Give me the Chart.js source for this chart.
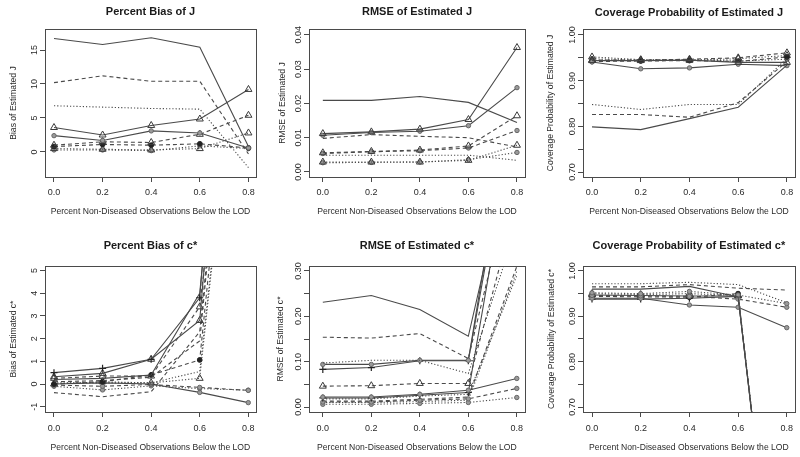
<!DOCTYPE html>
<html>
<head>
<meta charset="utf-8">
<script src="https://cdn.jsdelivr.net/npm/chart.js@4.4.1/dist/chart.umd.min.js"></script>
<style>
  body { margin: 0; background: #fff; }
  #page { position: relative; width: 800px; height: 457px; overflow: hidden; background: #fff; }
  #page canvas { position: absolute; }
</style>
</head>
<body>
<div id="page"></div>
<script>
// x positions shared by every panel
const xValues = [0.0, 0.2, 0.4, 0.6, 0.8];
const xTicks = [0.0, 0.2, 0.4, 0.6, 0.8];

// Percent bias of J
const biasJTicks = [0, 5, 10, 15];
const biasJLabels = ['0', '5', '10', '15'];
const biasJStyles = ['solid none', 'dashed none', 'dotted none', 'solid triangle', 'solid circle',
  'dashed triangle', 'dashed dot', 'dotted triangle', 'dotted circle'];
const biasJ = [
  [16.7, 15.8, 16.8, 15.4, 0.8],
  [10.2, 11.2, 10.4, 10.4, -0.3],
  [6.8, 6.6, 6.4, 6.3, -2.3],
  [3.6, 2.5, 3.9, 4.85, 9.2],
  [2.4, 1.7, 3.1, 2.8, 0.6],
  [1.0, 1.5, 1.4, 2.6, 5.4],
  [0.8, 1.1, 1.0, 1.2, 0.6],
  [0.5, 0.4, 0.3, 0.5, 2.8],
  [0.3, 0.3, 0.2, 0.9, 0.5]
];

// RMSE of J
const rmseJTicks = [0, 0.01, 0.02, 0.03, 0.04];
const rmseJLabels = ['0.00', '0.01', '0.02', '0.03', '0.04'];
const rmseJStyles = ['solid none', 'solid triangle', 'solid circle', 'dashed none', 'dashed triangle',
  'dashed circle', 'dotted none', 'dotted triangle', 'dotted circle'];
const rmseJ = [
  [0.0209, 0.0209, 0.0220, 0.0203, 0.0144],
  [0.0112, 0.0117, 0.0125, 0.0153, 0.0363],
  [0.0107, 0.0115, 0.0119, 0.0135, 0.0246],
  [0.0098, 0.0109, 0.0104, 0.0100, 0.0073],
  [0.0056, 0.0060, 0.0064, 0.0076, 0.0164],
  [0.0054, 0.0059, 0.0062, 0.0070, 0.0121],
  [0.0049, 0.0049, 0.0049, 0.0049, 0.0034],
  [0.0029, 0.0029, 0.0029, 0.0034, 0.0078],
  [0.0027, 0.0028, 0.0029, 0.0036, 0.0057]
];

// Coverage probability of J
const covJTicks = [0.70, 0.75, 0.80, 0.85, 0.90, 0.95, 1.00];
const covJLabels = ['0.70', '', '0.80', '', '0.90', '', '1.00'];
const covJStyles = ['solid none', 'dashed none', 'dotted none', 'solid triangle', 'solid circle',
  'dashed triangle', 'dashed dot', 'dotted triangle', 'dotted circle'];
const covJ = [
  [0.799, 0.793, 0.817, 0.842, 0.934],
  [0.826, 0.826, 0.820, 0.852, 0.942],
  [0.848, 0.837, 0.848, 0.848, 0.949],
  [0.944, 0.944, 0.945, 0.940, 0.940],
  [0.941, 0.926, 0.928, 0.936, 0.933],
  [0.945, 0.945, 0.947, 0.950, 0.961],
  [0.942, 0.943, 0.944, 0.942, 0.952],
  [0.952, 0.946, 0.945, 0.948, 0.955],
  [0.948, 0.945, 0.946, 0.943, 0.947]
];

// Percent bias of c*
const biasCTicks = [-1, 0, 1, 2, 3, 4, 5];
const biasCLabels = ['-1', '0', '1', '2', '3', '4', '5'];
const biasCStyles = ['solid plus', 'solid triangle', 'solid none', 'dashed none', 'dashed dot',
  'dotted none', 'dotted triangle', 'dashed triangle', 'dashed circle', 'dotted circle',
  'solid circle', 'dashed none'];
const biasC = [
  [0.50, 0.69, 1.09, 3.8, 30],
  [0.32, 0.47, 1.09, 2.8, 28],
  [0.20, 0.25, 0.40, 4.0, 26],
  [0.10, 0.15, 0.30, 1.9, 24],
  [0.00, 0.10, 0.40, 1.06, 22],
  [0.05, 0.05, 0.05, 0.55, 20],
  [0.00, 0.10, 0.05, 0.25, 20],
  [0.25, 0.35, 0.35, 3.4, 22],
  [-0.05, -0.10, -0.02, -0.15, -0.28],
  [-0.10, -0.26, -0.08, -0.20, -0.27],
  [0.00, 0.05, 0.00, -0.37, -0.82],
  [-0.38, -0.56, -0.34, 2.3, 24]
];

// RMSE of c*
const rmseCTicks = [0, 0.05, 0.10, 0.15, 0.20, 0.25, 0.30];
const rmseCLabels = ['0.00', '', '0.10', '', '0.20', '', '0.30'];
const rmseCStyles = ['solid none', 'dashed none', 'dotted none', 'solid circle', 'solid plus',
  'dashed triangle', 'solid circle', 'solid plus', 'dashed circle', 'dotted circle',
  'dotted none', 'dashed none', 'dotted none'];
const rmseC = [
  [0.231, 0.246, 0.215, 0.156, 0.62],
  [0.154, 0.152, 0.162, 0.107, 0.55],
  [0.097, 0.103, 0.103, 0.074, 0.40],
  [0.094, 0.094, 0.103, 0.103, 0.75],
  [0.083, 0.087, 0.102, 0.102, 0.70],
  [0.046, 0.047, 0.052, 0.052, 0.45],
  [0.022, 0.022, 0.028, 0.037, 0.063],
  [0.020, 0.020, 0.026, 0.032, 0.65],
  [0.011, 0.011, 0.015, 0.018, 0.041],
  [0.006, 0.006, 0.008, 0.010, 0.021],
  [0.018, 0.018, 0.024, 0.028, 0.29],
  [0.013, 0.013, 0.017, 0.022, 0.31],
  [0.010, 0.010, 0.012, 0.015, 0.30]
];

// Coverage probability of c*
const covCTicks = [0.70, 0.75, 0.80, 0.85, 0.90, 0.95, 1.00];
const covCLabels = ['0.70', '', '0.80', '', '0.90', '', '1.00'];
const covCStyles = ['dotted none', 'dashed none', 'solid none', 'dotted circle', 'dashed circle',
  'solid circle', 'dashed dot', 'solid triangle', 'dotted triangle', 'solid plus'];
const covC = [
  [0.972, 0.972, 0.975, 0.970, 0.930],
  [0.965, 0.965, 0.970, 0.962, 0.958],
  [0.960, 0.960, 0.966, 0.943, 0.03],
  [0.952, 0.950, 0.955, 0.947, 0.928],
  [0.946, 0.945, 0.944, 0.938, 0.920],
  [0.940, 0.940, 0.925, 0.920, 0.875],
  [0.944, 0.943, 0.942, 0.950, 0.02],
  [0.947, 0.946, 0.945, 0.945, 0.03],
  [0.950, 0.948, 0.950, 0.946, 0.04],
  [0.938, 0.938, 0.940, 0.944, 0.02]
];

const xTitle = 'Percent Non-Diseased Observations Below the LOD';

// layout of each panel: plot box [left, top, right, bottom] in page pixels
const panels = [
  { title: 'Percent Bias of J', yTitle: 'Bias of Estimated J', box: [45, 29, 257, 177], titleY: 12, yGap: 31,
    x: [-0.037, 0.831], y: [-3.68, 18.09], ticks: biasJTicks, labels: biasJLabels, values: biasJ, styles: biasJStyles },
  { title: 'RMSE of Estimated J', yTitle: 'RMSE of Estimated J', box: [309, 29, 526, 177], titleY: 12, yGap: 26,
    x: [-0.057, 0.833], y: [-0.00146, 0.0417], ticks: rmseJTicks, labels: rmseJLabels, values: rmseJ, styles: rmseJStyles },
  { title: 'Coverage Probability of Estimated J', yTitle: 'Coverage Probability of Estimated J', box: [583, 29, 796, 177], titleY: 13, yGap: 32,
    x: [-0.037, 0.833], y: [0.6893, 1.0131], ticks: covJTicks, labels: covJLabels, values: covJ, styles: covJStyles },
  { title: 'Percent Bias of c*', yTitle: 'Bias of Estimated c*', box: [45, 266, 257, 412], titleY: 246, yGap: 31.5,
    x: [-0.037, 0.831], y: [-1.233, 5.2], ticks: biasCTicks, labels: biasCLabels, values: biasC, styles: biasCStyles },
  { title: 'RMSE of Estimated c*', yTitle: 'RMSE of Estimated c*', box: [309, 266, 526, 412], titleY: 246, yGap: 28,
    x: [-0.057, 0.833], y: [-0.011, 0.311], ticks: rmseCTicks, labels: rmseCLabels, values: rmseC, styles: rmseCStyles },
  { title: 'Coverage Probability of Estimated c*', yTitle: 'Coverage Probability of Estimated c*', box: [583, 266, 796, 412], titleY: 246, yGap: 31,
    x: [-0.037, 0.833], y: [0.689, 1.011], ticks: covCTicks, labels: covCLabels, values: covC, styles: covCStyles }
];

Chart.defaults.font.family = '"Liberation Sans", Arial, sans-serif';
Chart.defaults.color = '#2a2a2a';

const dashes = { solid: [], dashed: [4, 3], dotted: [1.2, 2] };
const LINE = '#4a4a4a';

function markerOptions(mark) {
  if (mark === 'triangle') return { pointStyle: 'triangle', pointRadius: 4, pointBackgroundColor: 'rgba(255,255,255,0)', pointBorderColor: '#3a3a3a', pointBorderWidth: 1 };
  if (mark === 'circle') return { pointStyle: 'circle', pointRadius: 2.2, pointBackgroundColor: '#9a9a9a', pointBorderColor: '#666', pointBorderWidth: 1 };
  if (mark === 'dot') return { pointStyle: 'circle', pointRadius: 2.4, pointBackgroundColor: '#222', pointBorderColor: '#222', pointBorderWidth: 1 };
  if (mark === 'plus') return { pointStyle: 'cross', pointRadius: 3.5, pointBackgroundColor: '#222', pointBorderColor: '#222', pointBorderWidth: 1.2 };
  return { pointRadius: 0 };
}

// R style box around the plot region plus rotated y tick labels
const rBox = {
  id: 'rBox',
  afterDraw(chart, args, opts) {
    const { ctx, chartArea: a } = chart;
    const y = chart.scales.y;
    ctx.save();
    ctx.strokeStyle = '#4a4a4a';
    ctx.lineWidth = 1;
    ctx.strokeRect(Math.round(a.left) + 0.5, Math.round(a.top) + 0.5, Math.round(a.right - a.left), Math.round(a.bottom - a.top));
    ctx.fillStyle = '#2a2a2a';
    ctx.font = '9px "Liberation Sans", Arial, sans-serif';
    ctx.textAlign = 'center';
    ctx.textBaseline = 'middle';
    opts.ticks.forEach((v, i) => {
      if (!opts.labels[i]) return;
      ctx.save();
      ctx.translate(a.left - 10, y.getPixelForValue(v));
      ctx.rotate(-Math.PI / 2);
      ctx.fillText(opts.labels[i], 0, 0);
      ctx.restore();
    });
    ctx.restore();
  }
};

const page = document.getElementById('page');

panels.forEach(function (p) {
  const [bl, bt, br, bb] = p.box;
  const canvas = document.createElement('canvas');
  canvas.width = 45 + (br - bl) + 4;
  canvas.height = 29 + (bb - bt) + 52;
  canvas.style.left = (bl - 45) + 'px';
  canvas.style.top = (bt - 29) + 'px';
  page.appendChild(canvas);

  const titleTop = p.titleY - (bt - 29) - 6.6;
  const datasets = p.values.map(function (vals, i) {
    const [line, mark] = p.styles[i].split(' ');
    return Object.assign({
      data: vals.map((v, k) => ({ x: xValues[k], y: v })),
      borderColor: LINE,
      borderWidth: 1.1,
      borderDash: dashes[line],
      fill: false,
      tension: 0,
      clip: 0
    }, markerOptions(mark));
  });

  new Chart(canvas, {
    type: 'line',
    data: { datasets: datasets },
    options: {
      responsive: false,
      animation: false,
      events: [],
      layout: { padding: { left: 0, right: 4, top: 0, bottom: 0 } },
      plugins: {
        legend: { display: false },
        tooltip: { enabled: false },
        title: {
          display: true,
          text: p.title,
          fullSize: false,
          color: '#1a1a1a',
          font: { size: 11, weight: 'bold' },
          padding: { top: titleTop, bottom: 29 - titleTop - 13.2 }
        },
        rBox: { ticks: p.ticks, labels: p.labels }
      },
      scales: {
        x: {
          type: 'linear',
          min: p.x[0],
          max: p.x[1],
          afterBuildTicks: s => { s.ticks = xTicks.map(v => ({ value: v })); },
          afterFit: s => { s.height = 52; },
          grid: { drawOnChartArea: false, drawTicks: true, tickLength: 5, color: '#4a4a4a' },
          border: { display: false },
          ticks: { autoSkip: false, maxRotation: 0, padding: bt > 100 ? 6 : 5, font: { size: 9 }, callback: v => v.toFixed(1) },
          title: { display: true, text: xTitle, font: { size: 8.6 }, padding: { top: 0, bottom: bt > 100 ? 10.8 : 11.8 } }
        },
        y: {
          type: 'linear',
          min: p.y[0],
          max: p.y[1],
          afterBuildTicks: s => { s.ticks = p.ticks.map(v => ({ value: v })); },
          afterFit: s => { s.width = 45; },
          grid: { drawOnChartArea: false, drawTicks: true, tickLength: 5, color: '#4a4a4a' },
          border: { display: false },
          ticks: { display: false },
          title: { display: true, text: p.yTitle, font: { size: 8.6 }, padding: { top: 45 - p.yGap - 5.16, bottom: 0 } }
        }
      }
    },
    plugins: [rBox]
  });
});
</script>
</body>
</html>
